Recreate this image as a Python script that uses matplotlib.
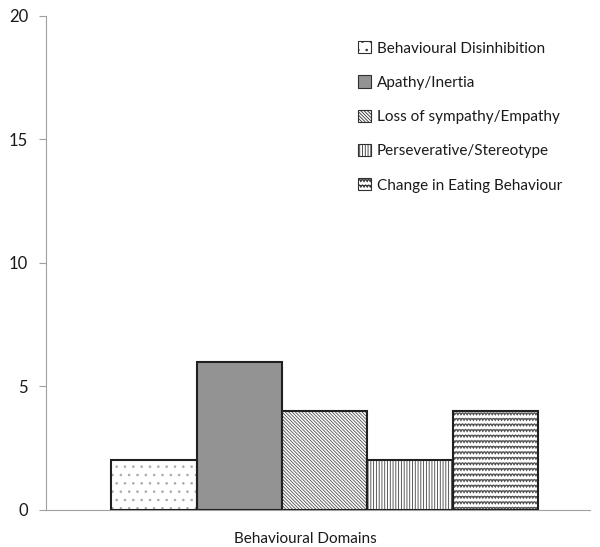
import matplotlib
matplotlib.use('Agg')
import matplotlib.pyplot as plt
import matplotlib.hatch as mhatch
from matplotlib.path import Path
import numpy as np

labels = ['Behavioural Disinhibition', 'Apathy/Inertia', 'Loss of sympathy/Empathy',
          'Perseverative/Stereotype', 'Change in Eating Behaviour']
values = [2, 6, 4, 2, 4]
offsets = [-2, -1, 0, 1, 2]


# wavy rows for the last bar; '*' is taken over (stars are not used here)
class WaveHatch(mhatch.HatchPatternBase):
    def __init__(self, hatch, density):
        self.num_rows = int(hatch.count('*') * density)
        self.num_per = 32
        self.num_vertices = self.num_rows * (2 * self.num_per + 1)

    def set_vertices_and_codes(self, vertices, codes):
        n = 2 * self.num_per + 1
        xs = np.linspace(0, 1, n)
        amp = 0.012
        for i in range(self.num_rows):
            y = (i + 0.5) / self.num_rows
            ys = y + amp * np.where(np.arange(n) % 2 == 0, 1, -1)
            vertices[i * n:(i + 1) * n, 0] = xs
            vertices[i * n:(i + 1) * n, 1] = ys
            codes[i * n] = Path.MOVETO
            codes[i * n + 1:(i + 1) * n] = Path.LINETO


mhatch._hatch_types = [t for t in mhatch._hatch_types if t is not mhatch.Stars] + [WaveHatch]

plt.rcParams['font.family'] = ['Lato', 'DejaVu Sans']
plt.rcParams['hatch.linewidth'] = 0.6

fig = plt.figure(figsize=(6, 5.47), dpi=100)
ax = fig.add_axes([0.077, 0.068, 0.906, 0.903])

faces = ['white', '#939393', 'white', 'white', 'white']
hatches = ['..', None, '\\' * 10, '|' * 6, '***']
hcolors = ['#a8a8a8', '#939393', '#505050', '#404040', '#505050']

for i in range(len(values)):
    ax.bar(offsets[i], values[i], width=1.0, color=faces[i], hatch=hatches[i],
           edgecolor=hcolors[i], linewidth=0, label=labels[i], zorder=2)
    # black outline on top of the hatch
    ax.bar(offsets[i], values[i], width=1.0, color='none', edgecolor='#202020',
           linewidth=1.5, zorder=3)

ax.set_xlim(-3.26, 3.105)
ax.set_ylim(0, 20)
ax.set_yticks([0, 5, 10, 15, 20])
ax.set_xticks([])
for s in ['top', 'right']:
    ax.spines[s].set_visible(False)
ax.spines['left'].set_color('#a0a0a0')
ax.spines['bottom'].set_color('#a0a0a0')
ax.tick_params(axis='y', direction='out', length=5, color='#a0a0a0',
               labelsize=12, labelcolor='#1a1a1a', pad=8)
ax.set_xlabel('Behavioural Domains', fontsize=11, color='#1a1a1a')
ax.xaxis.set_label_coords((305 - 46) / 544, -0.045)

leg = ax.legend(loc='upper left', bbox_to_anchor=(0.563, 0.961), frameon=False,
                fontsize=11, handlelength=0.85, handleheight=0.85, handletextpad=0.35,
                labelspacing=1.3, borderaxespad=0)
for h in leg.legend_handles:
    h.set_edgecolor('#303030')
    h.set_linewidth(0.8)
for t in leg.get_texts():
    t.set_color('#1a1a1a')

fig.savefig('out.png', dpi=100)
